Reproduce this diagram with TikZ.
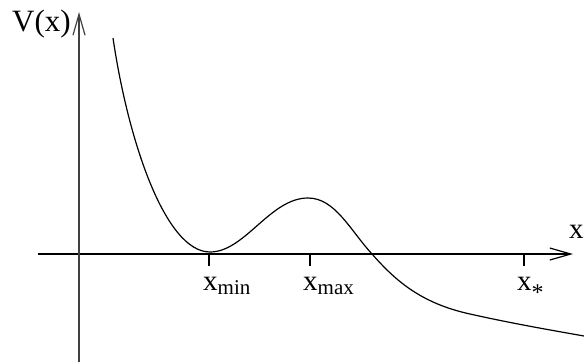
\documentclass[tikz,border=0pt]{standalone}
\usepackage{fontspec}
\setmainfont{Liberation Serif}
\usetikzlibrary{arrows.meta}
\begin{document}
\begin{tikzpicture}[x=1pt,y=-1pt,
  lbl/.style={inner sep=0pt,anchor=base west,font=\fontsize{29}{29}\selectfont},
  tick/.style={line width=1.2pt,black},
  axis/.style={line width=1.4pt,-{Straight Barb[length=21pt,width=12pt,line width=1.2pt]}}]
\useasboundingbox (0,0) rectangle (584,362);
\coordinate (xs) at (38,254);
\coordinate (xe) at (573,254);
\coordinate (ys) at (79,362);
\coordinate (ye) at (79,12);
\draw[axis,black] (xs) -- (xe);
\draw[axis,black!75,line width=1.8pt] (ys) -- (ye);
\foreach \n/\p in {tmin/209,tmax/310,tstar/524}{
  \coordinate (\n a) at (\p,254);
  \coordinate (\n b) at (\p,266);
  \draw[tick] (\n a) -- (\n b);
}
\node[lbl,font=\fontsize{31}{31}\selectfont] (vx) at (12,31) {V(x)};
\node[lbl] (xl) at (569,238) {x};
\node[lbl] (xmin) at (203,290) {x\raisebox{-4pt}{\fontsize{21}{21}\selectfont min}};
\node[lbl] (xmax) at (303,290) {x\raisebox{-4pt}{\fontsize{21}{21}\selectfont max}};
\node[lbl] (xstar) at (517,290) {x\raisebox{-10pt}{\fontsize{24}{24}\selectfont *}};
\coordinate (c0) at (113,38);
\coordinate (cmin) at (210,252);
\coordinate (cmax) at (308,198);
\coordinate (czero) at (372,254);
\coordinate (ctail) at (470,314);
\coordinate (cend) at (584,336);
\draw[line width=1.2pt] (c0) .. controls (128,140) and (165,252) .. (cmin)
  .. controls (245,252) and (270,198) .. (cmax)
  .. controls (335,198) and (350,230) .. (czero)
  .. controls (395,280) and (420,303) .. (ctail)
  .. controls (510,323) and (550,330) .. (cend);
\end{tikzpicture}
\end{document}
